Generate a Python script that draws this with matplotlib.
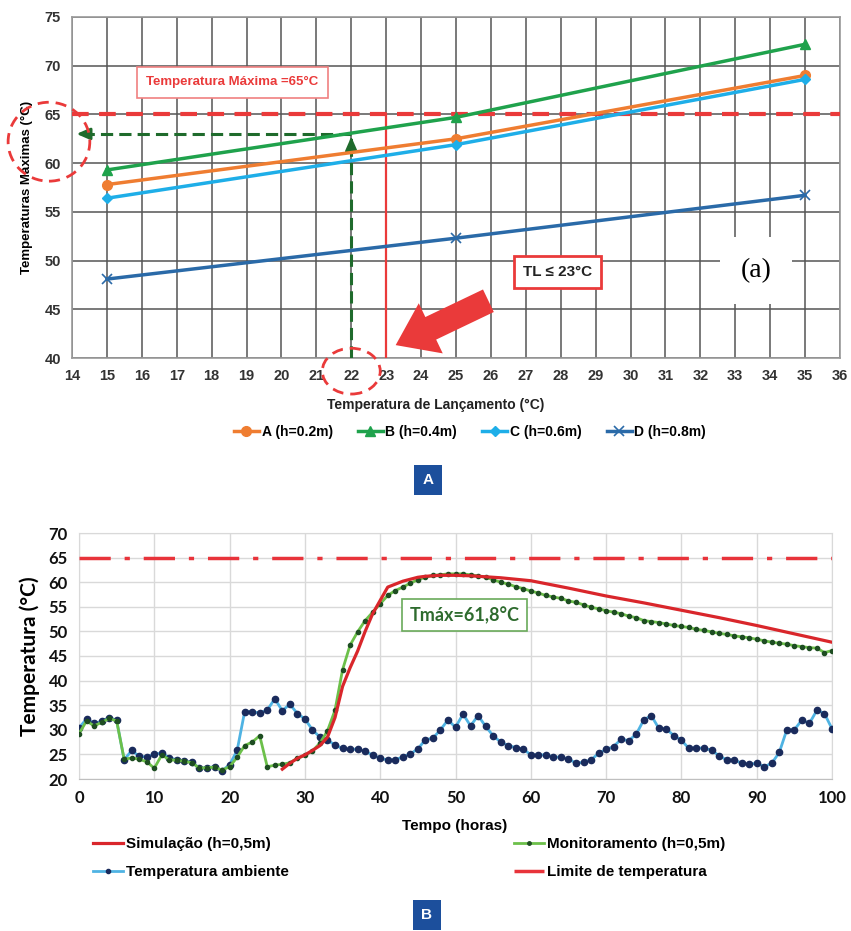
import numpy as np
import matplotlib
matplotlib.use("Agg")
import matplotlib.pyplot as plt
from matplotlib.lines import Line2D
from matplotlib.patches import Ellipse

plt.rcParams['font.family'] = ['Liberation Sans', 'DejaVu Sans']

# ---- Panel A data ----
launch_temp = [15, 25, 35]
temp_a = [57.8, 62.5, 69.0]
temp_b = [59.3, 64.7, 72.2]
temp_c = [56.4, 61.9, 68.6]
temp_d = [48.1, 52.3, 56.7]
labels_a = ["A (h=0.2m)", "B (h=0.4m)", "C (h=0.6m)", "D (h=0.8m)"]
t_max_limit = 65
tl_choice = 22
tl_limit = 23
t_at_choice = 63

# ---- Panel B data ----
hours = np.arange(0, 101)
ambient = [30.4, 32.2, 31.3, 31.7, 32.5, 31.9, 23.9, 25.8, 24.6, 24.5, 25.0, 25.3, 24.3, 23.9, 23.7,
           23.4, 22.2, 22.3, 22.5, 21.7, 22.9, 25.8, 33.7, 33.7, 33.4, 34.0, 36.3, 33.9, 35.2, 33.3,
           32.2, 30.0, 28.5, 27.9, 26.9, 26.2, 26.0, 26.1, 25.6, 24.9, 24.2, 23.9, 23.9, 24.5, 25.1,
           26.1, 28.0, 28.3, 30.0, 32.0, 30.5, 33.2, 30.8, 32.9, 30.7, 28.8, 27.5, 26.8, 26.4, 26.1,
           24.9, 24.9, 24.9, 24.5, 24.4, 24.1, 23.2, 23.4, 23.9, 25.2, 26.0, 26.6, 28.1, 27.8, 29.1,
           32.0, 32.9, 30.3, 30.2, 28.8, 27.9, 26.2, 26.4, 26.2, 25.9, 24.7, 23.9, 23.9, 23.2, 23.0,
           23.2, 22.5, 23.2, 25.4, 30.0, 30.0, 32.0, 31.3, 34.0, 33.3, 30.2]
monitor = [29.2, 31.8, 30.8, 31.5, 32.3, 31.8, 24.0, 24.3, 24.0, 23.5, 22.2, 24.9, 23.9, 23.8, 23.6,
           23.3, 22.2, 22.3, 22.4, 21.8, 22.5, 24.4, 26.8, 27.5, 28.8, 22.5, 22.8, 23.0, 23.3, 24.2,
           24.8, 25.7, 27.3, 29.8, 34.0, 42.2, 47.2, 49.9, 52.2, 53.9, 55.6, 57.3, 58.3, 59.0, 59.8,
           60.5, 61.0, 61.4, 61.5, 61.7, 61.7, 61.7, 61.5, 61.3, 61.0, 60.5, 60.0, 59.6, 59.1, 58.7,
           58.2, 57.8, 57.3, 57.0, 56.7, 56.2, 55.9, 55.4, 54.9, 54.6, 54.2, 53.9, 53.6, 53.1, 52.8,
           52.2, 52.0, 51.8, 51.5, 51.2, 51.0, 50.8, 50.4, 50.2, 49.9, 49.6, 49.4, 49.1, 48.9, 48.7,
           48.4, 48.1, 47.8, 47.6, 47.4, 47.1, 46.9, 46.7, 46.6, 45.7, 46.1]
sim_hours = [27, 28, 29, 30, 31, 32, 33, 34, 35, 36, 37, 38, 39, 40, 41, 42, 43, 44, 45, 46, 48, 50,
             52, 54, 56, 58, 60, 65, 70, 75, 80, 85, 90, 95, 100]
simulation = [22.0, 23.2, 24.2, 24.9, 25.8, 26.8, 28.5, 32.5, 38.8, 42.6, 46.0, 50.0, 53.6, 56.3,
              59.0, 59.6, 60.2, 60.6, 61.0, 61.2, 61.4, 61.4, 61.3, 61.1, 60.9, 60.6, 60.3, 58.8,
              57.2, 55.8, 54.3, 52.8, 51.2, 49.5, 47.8]
labels_b = ["Simulação (h=0,5m)", "Temperatura ambiente", "Monitoramento (h=0,5m)", "Limite de temperatura"]

W, H = 851, 931
fig = plt.figure(figsize=(W / 100, H / 100), dpi=100)


def fx(px):
    return px / W


def fy(py):
    return 1 - py / H


# ================= Panel A =================
ax1 = fig.add_axes([fx(72), fy(358), fx(840) - fx(72), fy(17) - fy(358)])
ax1.set_xlim(14, 36)
ax1.set_ylim(40, 75)
ax1.set_xticks(range(14, 37))
ax1.set_yticks(range(40, 76, 5))
ax1.grid(True, color="#555555", lw=1.1)
ax1.set_axisbelow(True)
for s in ax1.spines.values():
    s.set_color("#9a9a9a")
    s.set_linewidth(1.2)
ax1.tick_params(length=0, labelsize=10.5, colors="#333333", pad=8)
for lbl in ax1.get_xticklabels() + ax1.get_yticklabels():
    lbl.set_fontweight("bold")

red = "#ea3a3a"
dkgreen = "#1f6b2c"
ax1.axhline(t_max_limit, color=red, lw=3, ls=(0, (4, 2.5)), zorder=3)
ax1.plot([tl_limit, tl_limit], [40, t_max_limit], color=red, lw=1.6, zorder=3)

ha, = ax1.plot(launch_temp, temp_a, color="#ef7d31", lw=2.5, marker="o", ms=7, zorder=5)
hb, = ax1.plot(launch_temp, temp_b, color="#1fa24c", lw=2.5, marker="^", ms=7.5, zorder=5)
hc, = ax1.plot(launch_temp, temp_c, color="#1eaee8", lw=2.5, marker="D", ms=5.5, zorder=5)
hd, = ax1.plot(launch_temp, temp_d, color="#2a6aa8", lw=2.5, marker="x", ms=7, mew=1.2, zorder=5)

# green dashed guide arrows
ax1.plot([tl_choice, tl_choice], [40, t_at_choice - 0.8], color=dkgreen, lw=2.2, ls=(0, (4, 2)), zorder=4)
ax1.annotate("", xy=(tl_choice, t_at_choice), xytext=(tl_choice, t_at_choice - 1.2),
             arrowprops=dict(arrowstyle="-|>,head_width=0.35,head_length=0.8", color=dkgreen, lw=2))
ax1.plot([tl_choice, 14.4], [t_at_choice, t_at_choice], color=dkgreen, lw=2.2, ls=(0, (4, 2)), zorder=4)
ax1.annotate("", xy=(14.05, t_at_choice), xytext=(14.6, t_at_choice),
             arrowprops=dict(arrowstyle="-|>,head_width=0.35,head_length=0.8", color=dkgreen, lw=2))

# red dashed circles
ax1.add_patch(Ellipse((13.34, 62.2), 2.34, 8.1, fill=False, ec=red, lw=2, ls=(0, (4, 2.5)),
                      clip_on=False, zorder=6))
ax1.add_patch(Ellipse((22.0, 38.65), 1.66, 4.7, fill=False, ec=red, lw=2, ls=(0, (4, 2.5)),
                      clip_on=False, zorder=6))

# big red arrow
ax1.annotate("", xy=(23.2, 41.2), xytext=(26.0, 46.0),
             arrowprops=dict(arrowstyle="simple,head_width=2.0,head_length=1.4,tail_width=0.9",
                             color=red, mutation_scale=20, lw=0), zorder=6)

ax1.text(18.6, 68.3, "Temperatura Máxima =65°C", color=red, fontsize=9.5, fontweight="bold",
         ha="center", va="center",
         bbox=dict(boxstyle="square,pad=0.7", fc="white", ec="#f08080", lw=1.2), zorder=7)
ax1.text(27.9, 48.8, "TL ≤ 23°C", color="#222222", fontsize=11, fontweight="bold",
         ha="center", va="center",
         bbox=dict(boxstyle="square,pad=0.6", fc="white", ec=red, lw=2), zorder=7)
ax1.text(33.6, 49.0, "(a)", family="Liberation Serif", fontsize=20, ha="center", va="center",
         bbox=dict(boxstyle="square,pad=0.75", fc="white", ec="none"), zorder=7)

ax1.set_ylabel("Temperaturas Máximas (°C)", fontsize=9.5, fontweight="bold", labelpad=8)
fig.text(fx(436), fy(405), "Temperatura de Lançamento (°C)", fontsize=10, fontweight="bold",
         ha="center", va="center", color="#222222")
fig.legend([ha, hb, hc, hd], labels_a, loc="center", bbox_to_anchor=(fx(470), fy(432)), ncol=4,
           frameon=False, handlelength=1.8, handletextpad=0.2, columnspacing=1.8,
           prop=dict(size=10, weight="bold"))

fig.text(fx(428), fy(480), "A", color="white", fontsize=11, fontweight="bold", ha="center", va="center",
         bbox=dict(boxstyle="square,pad=0.55", fc="#1c4f9c", ec="none"))

# ================= Panel B =================
ax2 = fig.add_axes([fx(79), fy(779), fx(832) - fx(79), fy(533) - fy(779)])
ax2.set_xlim(0, 100)
ax2.set_ylim(20, 70)
ax2.set_xticks(range(0, 101, 10))
ax2.set_yticks(range(20, 71, 5))
ax2.grid(True, color="#d9d9d9", lw=1)
ax2.set_axisbelow(True)
for k, s in ax2.spines.items():
    s.set_color("#d9d9d9")
ax2.spines["bottom"].set_color("#bfbfbf")
ax2.tick_params(length=0, labelsize=12, colors="#111111", pad=8)
for lbl in ax2.get_xticklabels() + ax2.get_yticklabels():
    lbl.set_fontweight("bold")
    lbl.set_family("Lato")

ax2.axhline(t_max_limit, color="#e8333a", lw=2.5, ls=(0, (9, 4, 1.5, 4)), zorder=3)
ax2.plot(hours, ambient, color="#4fb3e3", lw=2, marker="o", ms=4.5, mfc="#1a2b5c", mec="#1a2b5c", zorder=4)
ax2.plot(hours, monitor, color="#6cc04a", lw=2, marker="o", ms=3, mfc="#1e4d22", mec="#1e4d22", zorder=5)
ax2.plot(sim_hours, simulation, color="#d9262b", lw=2.3, zorder=6)

ax2.text(51.2, 53.3, "Tmáx=61,8°C", color="#2e6b2e", fontsize=13, fontweight="bold", family="Lato",
         ha="center", va="center",
         bbox=dict(boxstyle="square,pad=0.4", fc="white", ec="#6aaa5a", lw=1.2), zorder=7)

ax2.set_ylabel("Temperatura (°C)", fontsize=15, fontweight="bold", family="Lato", labelpad=6)
fig.text(fx(455), fy(826), "Tempo (horas)", fontsize=11, fontweight="bold", ha="center", va="center")

h_sim = Line2D([], [], color="#d9262b", lw=2.3)
h_amb = Line2D([], [], color="#4fb3e3", lw=2, marker="o", ms=3, mfc="#1a2b5c", mec="#1a2b5c")
h_mon = Line2D([], [], color="#6cc04a", lw=2, marker="o", ms=2.5, mfc="#1e4d22", mec="#1e4d22")
h_lim = Line2D([], [], color="#e8333a", lw=2.5, ls=(0, (9, 4, 1.5, 4)))
fig.legend([h_sim, h_amb, h_mon, h_lim], labels_b, loc="center", bbox_to_anchor=(fx(409), fy(858)),
           ncol=2, frameon=False, handlelength=2.0, handletextpad=0.2, columnspacing=14.7,
           labelspacing=0.9, prop=dict(size=11, weight="bold"))

fig.text(fx(427), fy(915), "B", color="white", fontsize=11, fontweight="bold", ha="center", va="center",
         bbox=dict(boxstyle="square,pad=0.55", fc="#1c4f9c", ec="none"))

fig.savefig("out.png", dpi=100, facecolor="white")
